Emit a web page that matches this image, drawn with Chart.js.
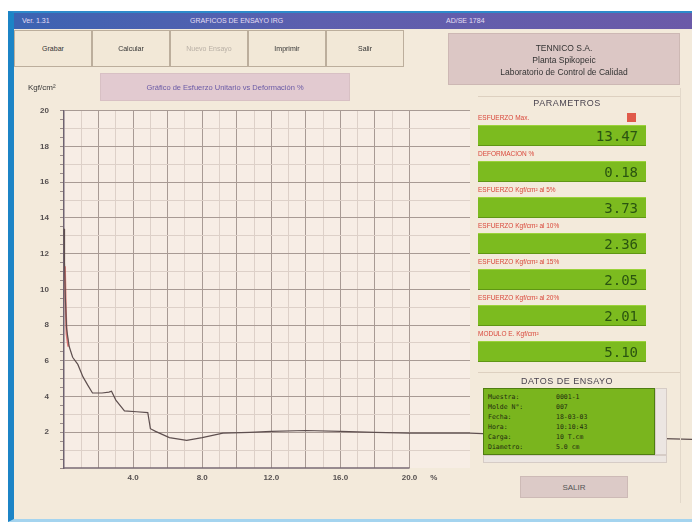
<!DOCTYPE html>
<html><head><meta charset="utf-8">
<script src="https://cdn.jsdelivr.net/npm/chart.js@4"></script>
<style>
html,body{margin:0;padding:0;background:#fff;}
body{width:692px;height:525px;position:relative;overflow:hidden;font-family:"Liberation Sans",Arial,sans-serif;}
.a{position:absolute;box-sizing:border-box;}
#frame{left:8px;top:11px;width:684px;height:511px;background:#f3eadb;border-left:6px solid #1c84c6;border-top:2px solid #2d8acb;border-bottom:3px solid #a4d4ef;z-index:0;}
#title{left:14px;top:13px;width:678px;height:16px;background:linear-gradient(90deg,#3c63b2,#5d5fae 45%,#6b5aa8 100%);color:#e4def5;font-size:7px;line-height:16px;z-index:2;}
#title span{position:absolute;top:0;}
.btn{top:30px;height:37px;width:78px;border:1px solid #bcae9c;background:#f2e8d7;font-size:7px;display:flex;align-items:center;justify-content:center;color:#333;z-index:2;}
.btn.dis{color:#b9b0a6;}
#company{left:448px;top:33px;width:232px;height:52px;background:#dcc7c5;border:1px solid #cdb8b4;font-size:8.5px;color:#333;text-align:center;line-height:12px;padding-top:8px;z-index:2;}
#unit{left:28px;top:83px;font-size:8px;color:#333;z-index:2;}
#subtitle{left:100px;top:73px;width:250px;height:28px;background:#e2cad0;border:1px solid #d8c0c4;color:#6a5aa6;font-size:7.5px;display:flex;align-items:center;justify-content:center;z-index:2;}
.hdr{width:202px;left:466px;text-align:center;font-size:9px;color:#4a4450;letter-spacing:0.5px;z-index:2;}
.sep{left:478px;width:202px;height:1px;background:#ddd0c0;z-index:2;}
.plab{left:478px;font-size:6.5px;color:#d9473a;z-index:2;white-space:nowrap;}
.pbox{left:478px;width:168px;height:21px;background:#7cbb1f;border-top:1px solid #9bd23a;border-bottom:1px solid #5f9614;color:#2a5410;font-family:"DejaVu Sans Mono",monospace;font-size:14px;text-align:right;padding-right:8px;line-height:20px;z-index:2;}
#redsq{left:627px;top:113px;width:9px;height:9px;background:#e05a4a;z-index:2;}
#datos{left:483px;top:388px;width:172px;height:67px;background:#7ab51e;border:1px solid #4f7d12;font-family:"DejaVu Sans Mono",monospace;font-size:6.5px;color:#1e2a10;line-height:10px;padding:3px 0 0 4px;z-index:2;}
#datos .k{position:absolute;left:4px;}
#datos .v{position:absolute;left:72px;}
#vscroll{left:655px;top:388px;width:12px;height:67px;background:#ece6e2;border:1px solid #d6ccc6;z-index:2;}
#hscroll{left:483px;top:455px;width:184px;height:8px;background:#ece6e2;border:1px solid #d6ccc6;z-index:2;}
#rline{left:680px;top:88px;width:1px;height:415px;background:#e2d8ca;z-index:2;}
#salir{left:520px;top:476px;width:108px;height:22px;background:#dccac7;border:1px solid #cdbab6;font-size:8px;color:#555;display:flex;align-items:center;justify-content:center;z-index:2;}
#cv{position:absolute;left:14px;top:95px;z-index:1;}
</style></head>
<body>
<div id="frame" class="a"></div>
<div id="title" class="a"><span style="left:8px">Ver. 1.31</span><span style="left:176px">GRAFICOS DE ENSAYO IRG</span><span style="left:432px">AD/SE 1784</span></div>
<div id="buttons"></div>
<div id="company" class="a">TENNICO S.A.<br>Planta Spikopeic<br>Laboratorio de Control de Calidad</div>
<div id="unit" class="a">Kgf/cm²</div>
<div id="subtitle" class="a">Gráfico de Esfuerzo Unitario vs Deformación %</div>
<div class="a sep" style="top:96px"></div>
<div class="a hdr" style="top:98px">PARAMETROS</div>
<div id="redsq" class="a"></div>
<div id="params"></div>
<div class="a sep" style="top:372px"></div>
<div class="a hdr" style="top:376px">DATOS DE ENSAYO</div>
<div id="datos" class="a"></div>
<div id="vscroll" class="a"></div>
<div id="hscroll" class="a"></div>
<div id="rline" class="a"></div>
<div id="salir" class="a">SALIR</div>
<canvas id="cv" width="678" height="400"></canvas>
<script>
// ---- data ----
const strainPct = [0, 0.03, 0.08, 0.15, 0.3, 0.5, 0.8, 1.1, 1.4, 1.65, 2.2, 2.6, 2.75, 3.0, 3.5, 4.2, 4.85, 5.0, 5.3, 6.1, 7.1, 8.0, 9.2, 10.75, 12, 14, 16, 18, 20, 23.5, 25, 36.5];
const stressKgf = [13.4, 11.5, 9.5, 7.8, 6.8, 6.2, 5.8, 5.1, 4.6, 4.2, 4.2, 4.25, 4.3, 3.8, 3.2, 3.15, 3.1, 2.2, 2.05, 1.7, 1.55, 1.7, 1.95, 2.0, 2.05, 2.1, 2.05, 2.0, 1.95, 1.95, 1.9, 1.6];
const peakStrain = [0.05, 0.1, 0.15, 0.25];
const peakStress = [11.3, 9.0, 7.5, 6.8];
const xLabelValues = [4, 8, 12, 16, 20];
const yLabelValues = [2, 4, 6, 8, 10, 12, 14, 16, 18, 20];
const xUnitLabel = '%';
const buttonLabels = ['Grabar', 'Calcular', 'Nuevo Ensayo', 'Imprimir', 'Salir'];
const paramLabels = ['ESFUERZO Max.', 'DEFORMACION %', 'ESFUERZO Kgf/cm² al 5%', 'ESFUERZO Kgf/cm² al 10%', 'ESFUERZO Kgf/cm² al 15%', 'ESFUERZO Kgf/cm² al 20%', 'MODULO E. Kgf/cm²'];
const paramValues = ['13.47', '0.18', '3.73', '2.36', '2.05', '2.01', '5.10'];
const datosKeys = ['Muestra:', 'Molde N°:', 'Fecha:', 'Hora:', 'Carga:', 'Diametro:'];
const datosValues = ['0001-1', '007', '18-03-03', '10:10:43', '10 T.cm', '5.0 cm'];

// ---- UI panels ----
const bt = document.getElementById('buttons');
buttonLabels.forEach((t, i) => {
  const d = document.createElement('div');
  d.className = 'a btn' + (i === 2 ? ' dis' : '');
  d.style.left = (14 + 78 * i) + 'px';
  d.textContent = t; bt.appendChild(d);
});
const pr = document.getElementById('params');
paramLabels.forEach((t, i) => {
  const l = document.createElement('div'); l.className = 'a plab'; l.style.top = (114 + 36 * i) + 'px'; l.textContent = t; pr.appendChild(l);
  const b = document.createElement('div'); b.className = 'a pbox'; b.style.top = (125 + 36 * i) + 'px'; b.textContent = paramValues[i]; pr.appendChild(b);
});
const dt = document.getElementById('datos');
datosKeys.forEach((k, i) => {
  const a = document.createElement('div'); a.className = 'k'; a.style.top = (3 + 10 * i) + 'px'; a.textContent = k; dt.appendChild(a);
  const b = document.createElement('div'); b.className = 'v'; b.style.top = (3 + 10 * i) + 'px'; b.textContent = datosValues[i]; dt.appendChild(b);
});

// ---- chart ----
const MAJOR = '#a89a94', MINOR = '#ddd0c8';
const X_MIN = 0, X_MAX = 23.5;
const plotDecor = {
  id: 'plotDecor',
  beforeDraw(chart) {
    const {ctx, chartArea: a} = chart;
    ctx.save(); ctx.fillStyle = '#f7ede5';
    ctx.fillRect(a.left, a.top, a.right - a.left, a.bottom - a.top); ctx.restore();
  },
  beforeDatasetsDraw(chart) {
    const x = chart.scales.x, y = chart.scales.y, ctx = chart.ctx;
    ctx.save(); ctx.strokeStyle = '#786a74'; ctx.lineWidth = 1.5;
    ctx.beginPath();
    ctx.moveTo(x.getPixelForValue(0), y.getPixelForValue(0));
    ctx.lineTo(x.getPixelForValue(xLabelValues[xLabelValues.length - 1]), y.getPixelForValue(0));
    ctx.stroke(); ctx.restore();
  }
};
const xTicks = []; for (let v = 0; v <= 20; v++) xTicks.push(v); xTicks.push(21.4);
const yTicks = []; for (let v = 0; v <= 20; v += 0.5) yTicks.push(v);

new Chart(document.getElementById('cv'), {
  type: 'line',
  data: {
    datasets: [
      {data: strainPct.map((x, i) => ({x, y: stressKgf[i]})), borderColor: '#5e4f4f', borderWidth: 1.2, pointRadius: 0, tension: 0, clip: false},
      {data: peakStrain.map((x, i) => ({x, y: peakStress[i]})), borderColor: 'rgba(215,80,80,0.75)', borderWidth: 2, pointRadius: 0, tension: 0, clip: false}
    ]
  },
  options: {
    responsive: false, animation: false, devicePixelRatio: 1,
    layout: {padding: {top: 15, right: 222, left: 0, bottom: 0}},
    plugins: {legend: {display: false}, tooltip: {enabled: false}},
    scales: {
      x: {
        type: 'linear', bounds: 'data',
        afterDataLimits: s => { s.min = X_MIN; s.max = X_MAX; },
        afterBuildTicks: s => { s.min = X_MIN; s.max = X_MAX; s.ticks = xTicks.map(v => ({value: v})); },
        afterFit: s => { s.height = 27; },
        border: {display: false},
        grid: {
          drawTicks: false,
          color: c => { const v = c.tick.value; if (v <= 0 || v > 20) return 'rgba(0,0,0,0)'; return v % 2 === 0 ? MAJOR : MINOR; }
        },
        ticks: {
          autoSkip: false, maxRotation: 0, padding: 5, color: '#555050',
          font: {family: 'Liberation Sans', size: 8, weight: 'bold'},
          callback: v => v === 21.4 ? xUnitLabel : (xLabelValues.includes(v) ? v.toFixed(1) : '')
        }
      },
      y: {
        type: 'linear', min: 0, max: 20,
        afterBuildTicks: s => { s.ticks = yTicks.map(v => ({value: v})); },
        afterFit: s => { s.width = 50; },
        border: {display: true, color: '#6e6270', width: 1.5},
        grid: {
          tickLength: 4, tickColor: '#9a8c8a',
          color: c => { const v = c.tick.value; if (v <= 0 || v % 1 !== 0) return 'rgba(0,0,0,0)'; return v % 2 === 0 ? MAJOR : MINOR; }
        },
        ticks: {
          autoSkip: false, padding: 11, color: '#555050',
          font: {family: 'Liberation Sans', size: 8, weight: 'bold'},
          callback: v => yLabelValues.includes(v) ? String(v) : ''
        }
      }
    }
  },
  plugins: [plotDecor]
});
</script>
</body></html>
